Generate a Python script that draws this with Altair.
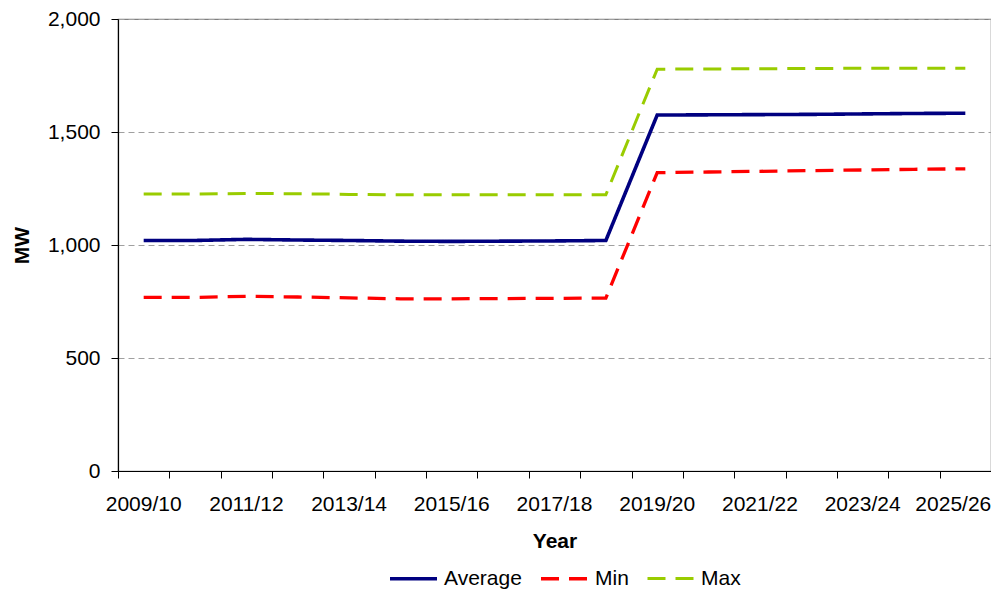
import altair as alt
import pandas as pd

years = ["2009/10", "2010/11", "2011/12", "2012/13", "2013/14", "2014/15",
         "2015/16", "2016/17", "2017/18", "2018/19", "2019/20", "2020/21",
         "2021/22", "2022/23", "2023/24", "2024/25", "2025/26"]
average = [1020, 1020, 1025, 1022, 1020, 1017, 1016, 1017, 1018, 1020,
           1575, 1576, 1577, 1578, 1580, 1582, 1583]
minimum = [768, 768, 773, 770, 766, 762, 762, 763, 764, 765,
           1320, 1323, 1326, 1329, 1332, 1335, 1337]
maximum = [1226, 1226, 1228, 1227, 1224, 1222, 1222, 1222, 1222, 1222,
           1778, 1779, 1780, 1781, 1782, 1782, 1782]
series = ["Average", "Min", "Max"]
colors = ["#000080", "#FF0000", "#99CC00"]
y_ticks = [0, 500, 1000, 1500, 2000]

rows = []
for name, vals in zip(series, [average, minimum, maximum]):
    for yr, v in zip(years, vals):
        rows.append({"year": yr, "MW": v, "series": name})
df = pd.DataFrame(rows)

FONT = "Liberation Sans"
FS = 21

xscale = alt.Scale(type="band", domain=years, paddingInner=0, paddingOuter=0)
yscale = alt.Scale(domain=[0, 2000], nice=False)
yaxis = alt.Axis(values=y_ticks, format=",d", title="MW",
                 labelFontSize=FS, labelPadding=11, labelColor="#000000",
                 tickSize=7, tickColor="#000000", domainColor="#000000",
                 domainWidth=1.2,
                 grid=True, gridDash=[6, 4], gridColor="#A0A0A0",
                 titleFontSize=FS, titleFontWeight="bold",
                 titleColor="#000000", titlePadding=15)

legend_kw = dict(title=None, orient="none", direction="horizontal",
                 legendX=270, legendY=534,
                 symbolType="stroke", symbolSize=2209,
                 symbolStrokeWidth=3.2, labelFontSize=FS,
                 labelColor="#000000", labelOffset=5,
                 columnPadding=12)

lines = alt.Chart(df).mark_line(strokeJoin="miter").encode(
    x=alt.X("year:N", sort=years, scale=xscale,
            axis=alt.Axis(orient="bottom", labels=False, title=None,
                          tickBand="extent", tickSize=7, tickColor="#000000",
                          domainColor="#000000", tickWidth=1, domainWidth=1.2,
                          grid=False)),
    y=alt.Y("MW:Q", scale=yscale, axis=yaxis),
    color=alt.Color("series:N", scale=alt.Scale(domain=series, range=colors),
                    legend=alt.Legend(**legend_kw)),
    strokeDash=alt.StrokeDash("series:N",
                              scale=alt.Scale(domain=series, range=[[1, 0], [18, 10], [18, 10]]),
                              legend=alt.Legend(**legend_kw)),
    strokeWidth=alt.StrokeWidth("series:N",
                                scale=alt.Scale(domain=series, range=[3.6, 3, 3]),
                                legend=None),
)

last_year = years[-1]
labels_layer = alt.Chart(df).mark_point(opacity=0).encode(
    x=alt.X("year:N", sort=years, scale=xscale,
            axis=alt.Axis(orient="bottom", domain=False, ticks=False, tickSize=0,
                          labelPadding=22, labelFontSize=FS, labelColor="#000000",
                          labelAngle=0,
                          labelOffset={"expr": f"datum.value == '{last_year}' ? -12 : 0"},
                          labelExpr="toNumber(slice(datum.value, 0, 4)) % 2 == 1 ? datum.value : ''",
                          title="Year", titleFontSize=FS, titleFontWeight="bold",
                          titleColor="#000000", titlePadding=16, grid=False)),
)

chart = alt.layer(lines, labels_layer).resolve_axis(x="independent").properties(
    width=873, height=452,
    autosize=alt.AutoSizeParams(type="none"),
    padding={"left": 110, "top": 11, "right": 0, "bottom": 120},
).configure(font=FONT).configure_view(stroke="#808080", strokeWidth=1.2)

chart.save("out.html", embed_options={"renderer": "svg", "actions": False})
